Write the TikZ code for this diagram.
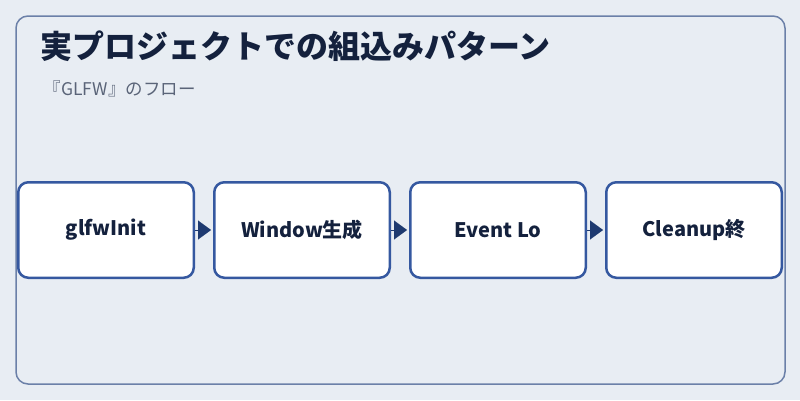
\documentclass[tikz,border=0pt]{standalone}
\usepackage{fontspec}
\setmainfont{Noto Sans CJK JP}
\usepackage{tikz}
\usetikzlibrary{arrows.meta,positioning}

\definecolor{pagebg}{HTML}{E8EDF3}
\definecolor{framecol}{HTML}{6B80A8}
\definecolor{boxline}{HTML}{3558A0}
\definecolor{arrowcol}{HTML}{1E3A70}
\definecolor{inkcol}{HTML}{14213D}
\definecolor{subcol}{HTML}{5A6478}

\begin{document}
\begin{tikzpicture}[
        x=1pt, y=-1pt,
        node distance=18pt and 18pt,
        every path/.style={thick},
        stage/.style={draw=boxline, line width=2.5pt, rounded corners=10pt, fill=white, align=center,
            minimum width=175.5pt, minimum height=95.5pt, inner sep=0pt,
            font=\fontsize{20}{24}\selectfont\bfseries, text=inkcol},
        flow/.style={draw=arrowcol, line width=0.1pt, shorten <=0pt, shorten >=2pt,
            -{Triangle[length=13pt, width=19pt, fill=arrowcol]}}
    ]

    % Background and frame
    \fill[pagebg] (0,0) rectangle (800,400);
    \useasboundingbox (0,0) rectangle (800,400);
    \draw[framecol, line width=1.5pt, rounded corners=12pt] (16,16) rectangle (785,384);

    % Headings
    \node[anchor=west, inner sep=0pt, text=inkcol, font=\fontsize{32}{38}\selectfont\bfseries] (title) at (40,46) {実プロジェクトでの組込みパターン};
    \node[anchor=west, inner sep=0pt, text=subcol, font=\fontsize{17.5}{21}\selectfont] (subtitle) at (43.5,89) {『GLFW』のフロー};

    % Nodes
    \node[stage] (init) at (106,230) {glfwInit};
    \node[stage, right=of init] (window) {Window生成};
    \node[stage, right=of window] (loop) {Event Lo};
    \node[stage, right=of loop] (cleanup) {Cleanup終};

    % Arrows
    \draw[flow] (init) -- (window);
    \draw[flow] (window) -- (loop);
    \draw[flow] (loop) -- (cleanup);

\end{tikzpicture}
\end{document}
